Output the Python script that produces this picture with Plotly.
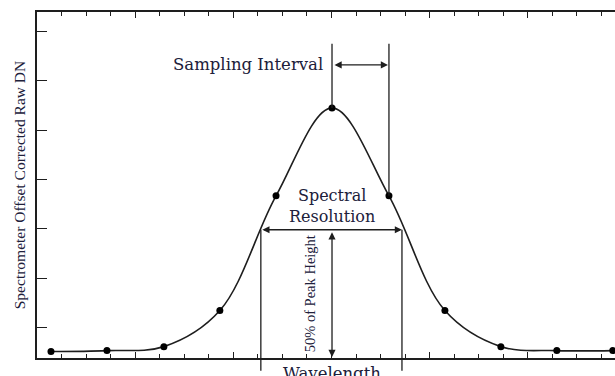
import plotly.graph_objects as go

# ---- data (x in tick units, y in tick units) ----
sample_x = [0.57, 2.85, 5.17, 7.45, 9.74, 12.02, 14.34, 16.62, 18.90, 21.18, 23.46]
sample_y = [0.13, 0.15, 0.23, 0.96, 3.28, 5.06, 3.28, 0.96, 0.23, 0.15, 0.15]
fwhm_bounds = [9.12, 14.87]

title_y = "Spectrometer Offset Corrected Raw DN"
title_x = "Wavelength"
label_interval = "Sampling Interval"
label_resolution = "Spectral<br>Resolution"
label_half = "50% of Peak Height"

X_RANGE = [0, 23.55]
Y_RANGE = [0, 7]
INK = "#1e1e1e"
TXT = "#20203a"
SERIF_WIDE = "DejaVu Serif"
SERIF_NARROW = "Liberation Serif"

peak_i = max(range(len(sample_y)), key=lambda i: sample_y[i])
peak_x = sample_x[peak_i]
peak_y = sample_y[peak_i]
next_x = sample_x[peak_i + 1]
next_y = sample_y[peak_i + 1]
base_y = min(sample_y)
half_y = base_y + (peak_y - base_y) / 2

fig = go.Figure()
fig.add_trace(go.Scatter(
    x=sample_x, y=sample_y, mode="lines+markers",
    line=dict(color=INK, width=1.6, shape="spline", smoothing=1.0),
    marker=dict(color="black", size=7),
    showlegend=False, hoverinfo="skip",
))

def px(yv):
    return (yv - Y_RANGE[0]) / (Y_RANGE[1] - Y_RANGE[0])

top_line = 6.36
shapes = [
    dict(type="line", xref="x", yref="y", x0=peak_x, x1=peak_x, y0=peak_y, y1=top_line,
         line=dict(color=INK, width=1.3)),
    dict(type="line", xref="x", yref="y", x0=next_x, x1=next_x, y0=next_y, y1=top_line,
         line=dict(color=INK, width=1.3)),
    dict(type="line", xref="x", yref="paper", x0=fwhm_bounds[0], x1=fwhm_bounds[0],
         y0=px(half_y), y1=-0.037, line=dict(color=INK, width=1.3)),
    dict(type="line", xref="x", yref="paper", x0=fwhm_bounds[1], x1=fwhm_bounds[1],
         y0=px(half_y), y1=-0.037, line=dict(color=INK, width=1.3)),
]

arrow_common = dict(xref="x", yref="y", axref="x", ayref="y", text="", showarrow=True,
                    arrowhead=2, startarrowhead=2, arrowside="end+start",
                    arrowsize=1.1, startarrowsize=1.1, arrowwidth=1.3, arrowcolor=INK)
annotations = [
    dict(x=next_x, y=5.93, ax=peak_x, ay=5.93, standoff=1, startstandoff=1, **arrow_common),
    dict(x=fwhm_bounds[1], y=half_y, ax=fwhm_bounds[0], ay=half_y, **arrow_common),
    dict(x=peak_x, y=Y_RANGE[0], ax=peak_x, ay=half_y, standoff=1, startstandoff=1, **arrow_common),
    dict(x=peak_x - 0.3, y=5.93, xref="x", yref="y", text=label_interval, showarrow=False,
         xanchor="right", yanchor="middle", font=dict(family=SERIF_WIDE, size=16.5, color=TXT)),
    dict(x=peak_x, y=half_y + 0.03, xref="x", yref="y", text=label_resolution, showarrow=False,
         xanchor="center", yanchor="bottom", font=dict(family=SERIF_WIDE, size=16, color=TXT)),
    dict(x=peak_x - 0.92, y=half_y / 2 + 0.0, xref="x", yref="y", text=label_half, showarrow=False,
         textangle=-90, xanchor="center", yanchor="middle",
         font=dict(family=SERIF_NARROW, size=14.5, color=TXT)),
    dict(x=peak_x, y=-0.012, xref="x", yref="paper", text=title_x, showarrow=False,
         xanchor="center", yanchor="top", font=dict(family=SERIF_WIDE, size=16.5, color=TXT)),
]

fig.update_layout(
    width=615, height=376,
    margin=dict(l=37, r=0, t=12, b=18, autoexpand=False),
    paper_bgcolor="white", plot_bgcolor="white",
    shapes=shapes, annotations=annotations,
    xaxis=dict(range=X_RANGE, showgrid=False, zeroline=False, showticklabels=False,
               showline=True, linecolor=INK, linewidth=1.5, mirror="ticks",
               ticks="inside", ticklen=6, tickwidth=1.3, tickcolor=INK, tick0=0, dtick=4,
               minor=dict(ticks="inside", ticklen=4, tickwidth=1, tickcolor=INK, dtick=1, showgrid=False)),
    yaxis=dict(range=Y_RANGE, showgrid=False, zeroline=False, showticklabels=False,
               showline=True, linecolor=INK, linewidth=1.5, automargin=False,
               ticks="inside", ticklen=10, tickwidth=1.2, tickcolor=INK, tick0=0.61, dtick=1,
               title=dict(text=title_y, font=dict(family=SERIF_NARROW, size=15.5, color=TXT), standoff=6)),
)

fig.write_html("out.html", config={"displayModeBar": False},
               post_script="document.body.style.margin='0';document.body.style.padding='0';")
